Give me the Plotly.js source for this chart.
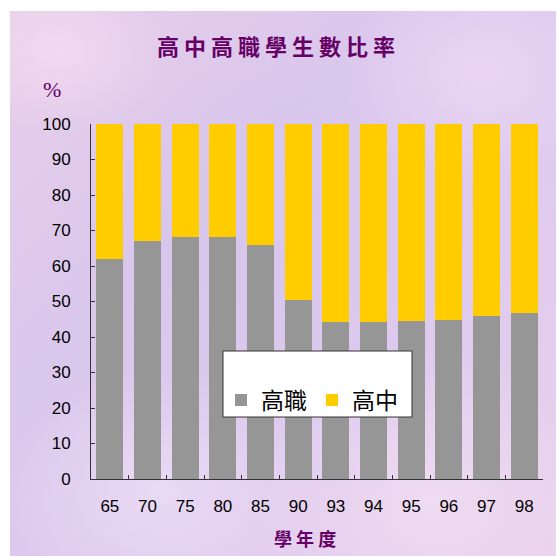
<!DOCTYPE html>
<html>
<head>
<meta charset="utf-8">
<script src="https://cdn.plot.ly/plotly-3.0.1.min.js"></script>
<style>
  html, body { margin: 0; padding: 0; background: #ffffff; }
  #wrap { position: relative; width: 558px; height: 556px; }
  #bg {
    position: absolute; left: 10px; top: 11px; width: 546px; height: 545px;
    background:
      radial-gradient(ellipse 110px 80px at 50px 40px, rgba(250,225,245,0.6), rgba(250,225,245,0) 100%),
      radial-gradient(ellipse 140px 110px at 470px 60px, rgba(242,222,248,0.6), rgba(242,222,248,0) 100%),
      radial-gradient(ellipse 160px 120px at 150px 480px, rgba(242,228,250,0.6), rgba(242,228,250,0) 100%),
      radial-gradient(ellipse 180px 140px at 420px 490px, rgba(246,228,246,0.6), rgba(246,228,246,0) 100%),
      radial-gradient(ellipse 220px 220px at 270px 250px, rgba(214,196,236,0.6), rgba(214,196,236,0) 100%),
      linear-gradient(135deg, #e8cfea 0%, #dac7ec 35%, #dfcbee 65%, #e9d0ec 100%);
  }
  #chart { position: absolute; left: 0; top: 0; width: 558px; height: 556px; }
</style>
</head>
<body>
<div id="wrap">
  <div id="bg"></div>
  <div id="chart"></div>
</div>
<script>
// Data
const years = ["65", "70", "75", "80", "85", "90", "93", "94", "95", "96", "97", "98"];
const vocational = [62.0, 67.0, 68.2, 68.2, 65.9, 50.4, 44.2, 44.2, 44.5, 44.8, 45.9, 46.8]; // 高職
const senior = [38.0, 33.0, 31.8, 31.8, 34.1, 49.6, 55.8, 55.8, 55.5, 55.2, 54.1, 53.2];     // 高中
const yTicks = [0, 10, 20, 30, 40, 50, 60, 70, 80, 90, 100];

const traces = [
  { type: "bar", name: "高職", x: years, y: vocational, marker: { color: "#969696" }, hoverinfo: "x+y+name" },
  { type: "bar", name: "高中", x: years, y: senior, marker: { color: "#FFCC00" }, hoverinfo: "x+y+name" }
];

const purple = "#660066";
const layout = {
  width: 558, height: 556,
  paper_bgcolor: "rgba(0,0,0,0)",
  plot_bgcolor: "rgba(0,0,0,0)",
  margin: { l: 91, r: 15, t: 124, b: 77 },
  barmode: "stack",
  bargap: 0.28,
  showlegend: true,
  title: {
    text: "高 中 高 職 學 生 數 比 率",
    font: { family: "Noto Sans CJK TC", size: 22, color: purple, weight: 700 },
    x: 276 / 558, xanchor: "center", xref: "container",
    y: 1 - 47 / 556, yanchor: "middle", yref: "container"
  },
  xaxis: {
    type: "category",
    showgrid: false,
    showline: true, linecolor: "#333333", linewidth: 1,
    ticks: "inside", ticklen: 4, tickcolor: "#333333", tickson: "boundaries",
    tickfont: { family: "Liberation Sans, Arial, sans-serif", size: 17, color: "#000000" },
    ticklabelstandoff: 12
  },
  yaxis: {
    range: [0, 100],
    tickvals: yTicks,
    showgrid: false, zeroline: false,
    showline: true, linecolor: "#333333", linewidth: 1,
    ticks: "inside", ticklen: 4, tickcolor: "#333333",
    tickfont: { family: "Liberation Sans, Arial, sans-serif", size: 17, color: "#000000" },
    ticklabelstandoff: 16
  },
  legend: {
    orientation: "h",
    x: (221 - 91) / 452, xanchor: "left",
    y: (479 - 400) / 355, yanchor: "middle",
    bgcolor: "rgba(0,0,0,0)", borderwidth: 0,
    font: { family: "Noto Sans CJK TC", size: 23, color: "#000000" },
    traceorder: "normal"
  },
  shapes: [
    {
      type: "rect", xref: "paper", yref: "paper",
      x0: (223 - 91) / 452, x1: (412 - 91) / 452,
      y0: (479 - 417) / 355, y1: (479 - 351) / 355,
      fillcolor: "#ffffff", line: { color: "#333333", width: 1 }, layer: "above"
    }
  ],
  annotations: [
    {
      text: "%", xref: "paper", yref: "paper",
      x: (52 - 91) / 452, y: (479 - 90) / 355,
      xanchor: "center", yanchor: "middle", showarrow: false,
      font: { family: "Liberation Serif, serif", size: 22, color: purple }
    },
    {
      text: "學 年 度", xref: "paper", yref: "paper",
      x: (305 - 91) / 452, y: (479 - 538) / 355,
      xanchor: "center", yanchor: "middle", showarrow: false,
      font: { family: "Noto Sans CJK TC", size: 18, color: purple, weight: 700 }
    }
  ]
};

Plotly.newPlot("chart", traces, layout, { displayModeBar: false, staticPlot: true });
</script>
</body>
</html>
